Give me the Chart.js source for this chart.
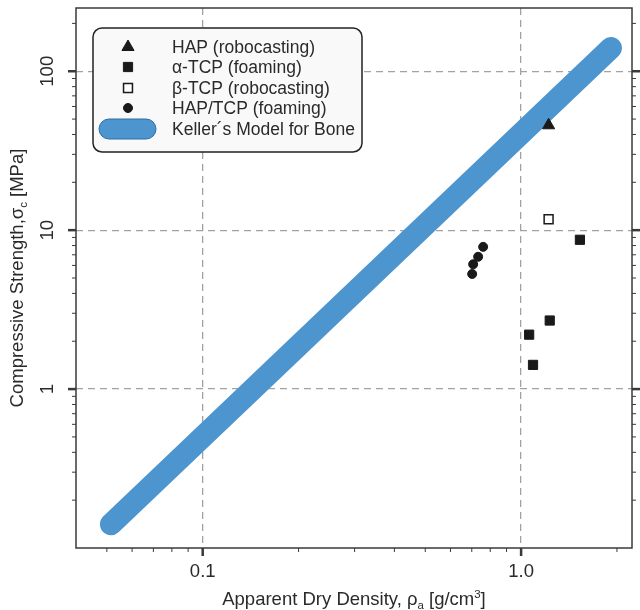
<!DOCTYPE html>
<html><head><meta charset="utf-8">
<script src="https://cdn.jsdelivr.net/npm/chart.js@4.4.0/dist/chart.umd.min.js"></script>
<style>html,body{margin:0;padding:0;background:#fff}#wrap{width:640px;height:610px;position:relative}</style>
</head><body><div id="wrap"><canvas id="c" width="640" height="610"></canvas></div>
<script>
// ---- data ----
const seriesNames = ['HAP (robocasting)', 'α-TCP (foaming)', 'β-TCP (robocasting)', 'HAP/TCP (foaming)', 'Keller´s Model for Bone'];
const hapDensity = [1.22];
const hapStrength = [45.7];
const aTcpDensity = [1.53, 1.23, 1.06, 1.09];
const aTcpStrength = [8.7, 2.7, 2.2, 1.42];
const bTcpDensity = [1.22];
const bTcpStrength = [11.7];
const hapTcpDensity = [0.76, 0.733, 0.707, 0.702];
const hapTcpStrength = [7.85, 6.8, 6.1, 5.3];
const kellerDensity = [0.0515, 1.915];
const kellerStrength = [0.141, 140];
const xMajorTicks = [0.1, 1];
const xTickLabels = ['0.1', '1.0'];
const xMinorTicks = [0.05, 0.06, 0.07, 0.08, 0.09, 0.2, 0.3, 0.4, 0.5, 0.6, 0.7, 0.8, 0.9, 2];
const yMajorTicks = [1, 10, 100];
const yTickLabels = ['1', '10', '100'];
const yMinorTicks = [0.2, 0.3, 0.4, 0.5, 0.6, 0.7, 0.8, 0.9, 2, 3, 4, 5, 6, 7, 8, 9, 20, 30, 40, 50, 60, 70, 80, 90, 200];
const xTitle = ['Apparent Dry Density, ρ', 'a', ' [g/cm', '3', ']'];
const yTitle = ['Compressive Strength,σ', 'c', ' [MPa]'];

const FONT = '"Liberation Sans", Arial, sans-serif';
const TXT = '#2a2a2a';
const pts = (xs, ys) => xs.map((x, i) => ({x, y: ys[i]}));

const frame = {
  id: 'frame',
  afterDatasetsDraw(chart) {
    const {ctx, chartArea: a, scales: {x, y}} = chart;
    const line = (x1, y1, x2, y2) => { ctx.beginPath(); ctx.moveTo(x1, y1); ctx.lineTo(x2, y2); ctx.stroke(); };
    ctx.save();
    ctx.strokeStyle = '#3a3a3a';
    // minor ticks
    ctx.lineWidth = 1;
    xMinorTicks.forEach(v => { const p = x.getPixelForValue(v); line(p, a.bottom, p, a.bottom + 4); });
    yMinorTicks.forEach(v => { const p = y.getPixelForValue(v); line(a.left - 4, p, a.left, p); line(a.right, p, a.right + 4, p); });
    // major ticks
    ctx.lineWidth = 2.5;
    xMajorTicks.forEach(v => { const p = x.getPixelForValue(v); line(p, a.bottom, p, a.bottom + 8); });
    yMajorTicks.forEach(v => { const p = y.getPixelForValue(v); line(a.left - 8, p, a.left, p); line(a.right, p, a.right + 8, p); });
    // frame
    ctx.lineWidth = 1.5;
    ctx.strokeRect(a.left, a.top, a.right - a.left, a.bottom - a.top);

    ctx.fillStyle = TXT;
    // y tick labels (rotated)
    ctx.font = '18.5px ' + FONT;
    ctx.textAlign = 'center'; ctx.textBaseline = 'alphabetic';
    yMajorTicks.forEach((v, i) => {
      const p = y.getPixelForValue(v);
      ctx.save(); ctx.translate(53, p); ctx.rotate(-Math.PI / 2); ctx.fillText(yTickLabels[i], 0, 0); ctx.restore();
    });

    // rich text helper: parts with optional sub/sup
    const rich = (parts, kinds, cx, cy, rot, size) => {
      ctx.save(); ctx.translate(cx, cy); ctx.rotate(rot);
      const small = size * 0.62;
      const widths = parts.map((t, i) => { ctx.font = (kinds[i] ? small : size) + 'px ' + FONT; return ctx.measureText(t).width; });
      const w = widths.reduce((s, v) => s + v, 0);
      let px = -w / 2;
      ctx.textAlign = 'left';
      parts.forEach((t, i) => {
        ctx.font = (kinds[i] ? small : size) + 'px ' + FONT;
        const dy = kinds[i] === 'sub' ? size * 0.22 : kinds[i] === 'sup' ? -size * 0.38 : 0;
        ctx.fillText(t, px, dy);
        px += widths[i];
      });
      ctx.restore();
    };
    rich(xTitle, [null, 'sub', null, 'sup', null], (a.left + a.right) / 2, 605, 0, 18.5);
    rich(yTitle, [null, 'sub', null], 23, (a.top + a.bottom) / 2, -Math.PI / 2, 18.5);

    // legend
    const lx = 93, ly = 28, lw = 269, lh = 124;
    ctx.beginPath();
    ctx.roundRect(lx, ly, lw, lh, 9);
    ctx.fillStyle = '#f9f9f9'; ctx.fill();
    ctx.lineWidth = 1.5; ctx.strokeStyle = '#222'; ctx.stroke();
    const rowsY = [47, 67, 88, 108, 129];
    const ds = chart.data.datasets;
    ctx.font = '17.5px ' + FONT; ctx.textAlign = 'left'; ctx.textBaseline = 'middle';
    ds.forEach((d, i) => {
      const ry = rowsY[i];
      if (d.type === 'line') {
        ctx.beginPath(); ctx.roundRect(99, ry - 10, 57, 20, 10);
        ctx.fillStyle = d.borderColor; ctx.fill();
        ctx.lineWidth = 1; ctx.strokeStyle = '#2f6da6'; ctx.stroke();
      } else {
        ctx.save();
        ctx.fillStyle = d.backgroundColor; ctx.strokeStyle = d.borderColor; ctx.lineWidth = d.borderWidth;
        Chart.helpers.drawPoint(ctx, {pointStyle: d.pointStyle, radius: d.pointRadius, borderWidth: d.borderWidth, rotation: 0}, 128, ry);
        ctx.restore();
      }
      ctx.fillStyle = TXT;
      ctx.fillText(d.label, 172, ry + 1);
    });
    ctx.restore();
  }
};

new Chart(document.getElementById('c'), {
  type: 'scatter',
  data: {
    datasets: [
      {label: seriesNames[0], data: pts(hapDensity, hapStrength), pointStyle: 'triangle', pointRadius: 7, backgroundColor: '#1a1a1a', borderColor: '#1a1a1a', borderWidth: 1},
      {label: seriesNames[1], data: pts(aTcpDensity, aTcpStrength), pointStyle: 'rect', pointRadius: 6.5, backgroundColor: '#1a1a1a', borderColor: '#1a1a1a', borderWidth: 1},
      {label: seriesNames[2], data: pts(bTcpDensity, bTcpStrength), pointStyle: 'rect', pointRadius: 6.3, backgroundColor: '#ffffff', borderColor: '#1a1a1a', borderWidth: 1.5},
      {label: seriesNames[3], data: pts(hapTcpDensity, hapTcpStrength), pointStyle: 'circle', pointRadius: 4.5, backgroundColor: '#1a1a1a', borderColor: '#1a1a1a', borderWidth: 1},
      {label: seriesNames[4], type: 'line', data: pts(kellerDensity, kellerStrength), showLine: true, borderColor: '#4d95cf', backgroundColor: '#4d95cf', borderWidth: 22, borderCapStyle: 'round', pointRadius: 0, fill: false}
    ]
  },
  options: {
    animation: false, responsive: false, devicePixelRatio: 1,
    layout: {padding: {left: 0, right: 7, top: 8, bottom: 0}},
    plugins: {legend: {display: false}, tooltip: {enabled: false}},
    scales: {
      x: {
        type: 'logarithmic', min: 0.04, max: 2.23,
        afterBuildTicks: s => { s.ticks = xMajorTicks.map(v => ({value: v})); },
        afterFit: s => { s.height = 62; },
        grid: {color: '#a2a2a2', lineWidth: 1.3, drawTicks: false},
        border: {display: false, dash: [7, 5]},
        ticks: {autoSkip: false, maxRotation: 0, minRotation: 0, padding: 13, color: TXT, font: {family: FONT, size: 18.5}, callback: (v, i) => xTickLabels[i]}
      },
      y: {
        type: 'logarithmic', min: 0.1, max: 250,
        afterBuildTicks: s => { s.ticks = yMajorTicks.map(v => ({value: v})); },
        afterFit: s => { s.width = 76; },
        grid: {color: '#a2a2a2', lineWidth: 1.3, drawTicks: false},
        border: {display: false, dash: [7, 5]},
        ticks: {display: false}
      }
    }
  },
  plugins: [frame]
});
</script></body></html>
